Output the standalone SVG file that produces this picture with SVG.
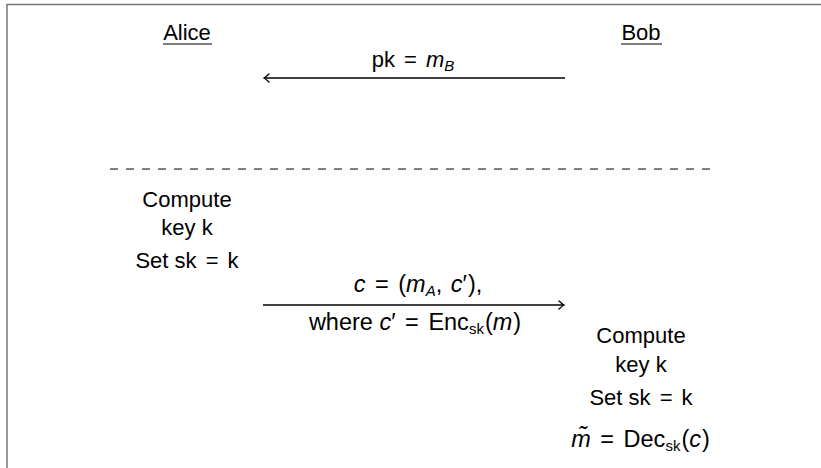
<svg xmlns="http://www.w3.org/2000/svg" width="821" height="468" viewBox="0 0 821 468">
<defs>
<style>
text{font-family:"Liberation Sans","DejaVu Sans",sans-serif;font-size:22px;fill:#000;text-anchor:middle}
.m{font-size:23.5px}
.i{font-style:italic}
.s{font-size:15px}
.u{stroke:#000;stroke-width:1.2}
.msg{stroke:#000;stroke-width:1.3;fill:none}
</style>
<marker id="ah" viewBox="-6 -5 8 10" markerWidth="8" markerHeight="10" refX="0" refY="0" orient="auto" markerUnits="userSpaceOnUse">
<path d="M-5,-4 Q-1.5,-0.8 0,0 Q-1.5,0.8 -5,4" fill="none" stroke="#000" stroke-width="1.4" stroke-linecap="round"/>
</marker>
</defs>
<path d="M7,468 V4.5 H821" fill="none" stroke="#777" stroke-width="1.5"/>
<g id="alice">
<text x="187" y="40">Alice</text>
<line class="u" x1="163" y1="44" x2="212" y2="44"/>
</g>
<g id="bob">
<text x="641" y="40">Bob</text>
<line class="u" x1="621" y1="44" x2="662" y2="44"/>
</g>
<g id="alice-compute">
<text x="187" y="207">Compute</text>
<text x="187" y="235">key k</text>
<text x="187" y="268">Set sk <tspan dx="3">=</tspan> <tspan dx="3">k</tspan></text>
</g>
<g id="bob-compute">
<text x="641" y="343">Compute</text>
<text x="641" y="372">key k</text>
<text x="641" y="405">Set sk <tspan dx="3">=</tspan> <tspan dx="3">k</tspan></text>
<text class="m" x="640.5" y="447"><tspan class="i">m̃</tspan> <tspan dx="3">=</tspan> <tspan dx="3">Dec</tspan><tspan class="s" dy="4">sk</tspan><tspan dy="-4" dx="1">(</tspan><tspan class="i">c</tspan><tspan dx="1">)</tspan></text>
</g>
<g id="connectors">
<line x1="110" y1="169" x2="710" y2="169" stroke="#555" stroke-width="1.3" stroke-dasharray="8 8"/>
<line class="msg" x1="565" y1="78" x2="264" y2="78" marker-end="url(#ah)"/>
<text x="413" y="67">pk <tspan dx="3">=</tspan> <tspan class="i" dx="3">m</tspan><tspan class="i s" dy="4">B</tspan></text>
<line class="msg" x1="263" y1="305" x2="564" y2="305" marker-end="url(#ah)"/>
<text class="m" x="418" y="292"><tspan class="i">c</tspan> <tspan dx="3">=</tspan> <tspan dx="3">(</tspan><tspan class="i">m</tspan><tspan class="i s" dy="4">A</tspan><tspan dy="-4">, </tspan><tspan class="i" dx="2">c</tspan>′<tspan dx="1">),</tspan></text>
<text class="m" x="415" y="330">where <tspan class="i">c</tspan>′ <tspan dx="3">=</tspan> <tspan dx="3">Enc</tspan><tspan class="s" dy="4">sk</tspan><tspan dy="-4" dx="1">(</tspan><tspan class="i">m</tspan><tspan dx="1">)</tspan></text>
</g>
</svg>
